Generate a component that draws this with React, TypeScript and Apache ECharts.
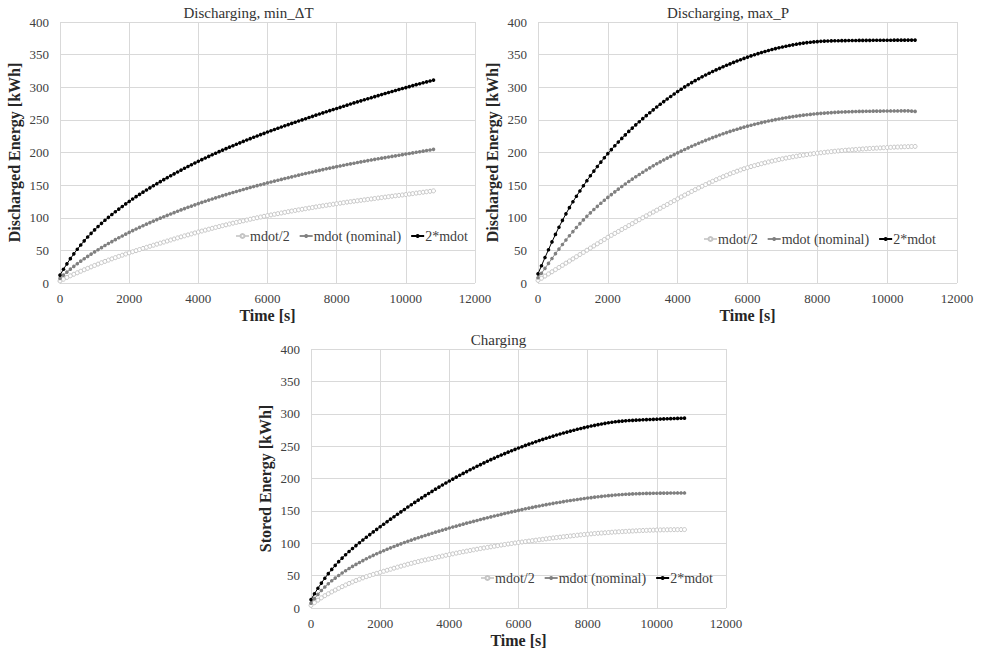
import React, { useEffect, useRef } from "react";
import * as echarts from "echarts";

// Time [s]
const time = [
  0, 100, 200, 300, 400, 500, 600, 700, 800, 900,
  1000, 1100, 1200, 1300, 1400, 1500, 1600, 1700, 1800, 1900,
  2000, 2100, 2200, 2300, 2400, 2500, 2600, 2700, 2800, 2900,
  3000, 3100, 3200, 3300, 3400, 3500, 3600, 3700, 3800, 3900,
  4000, 4100, 4200, 4300, 4400, 4500, 4600, 4700, 4800, 4900,
  5000, 5100, 5200, 5300, 5400, 5500, 5600, 5700, 5800, 5900,
  6000, 6100, 6200, 6300, 6400, 6500, 6600, 6700, 6800, 6900,
  7000, 7100, 7200, 7300, 7400, 7500, 7600, 7700, 7800, 7900,
  8000, 8100, 8200, 8300, 8400, 8500, 8600, 8700, 8800, 8900,
  9000, 9100, 9200, 9300, 9400, 9500, 9600, 9700, 9800, 9900,
  10000, 10100, 10200, 10300, 10400, 10500, 10600, 10700, 10800,
];

const seriesNames = ["mdot/2", "mdot (nominal)", "2*mdot"];

// Discharging, min_ΔT
const minDT_half = [
  3, 5.8, 8.5, 11, 13.4, 15.7, 18, 20.3, 22.5, 24.7,
  26.9, 29, 31.1, 33.1, 35.1, 37, 38.9, 40.8, 42.6, 44.4,
  46.2, 47.9, 49.6, 51.3, 53, 54.7, 56.3, 57.9, 59.5, 61.1,
  62.7, 64.3, 65.9, 67.5, 69.1, 70.7, 72.2, 73.7, 75.2, 76.7,
  78.2, 79.6, 81, 82.4, 83.8, 85.2, 86.5, 87.8, 89.1, 90.4,
  91.7, 92.9, 94.1, 95.3, 96.5, 97.7, 98.9, 100, 101.1, 102.2,
  103.3, 104.3, 105.3, 106.3, 107.3, 108.3, 109.3, 110.3, 111.2, 112.1,
  113, 113.9, 114.8, 115.7, 116.6, 117.5, 118.3, 119.1, 119.9, 120.7,
  121.5, 122.3, 123.1, 123.9, 124.6, 125.3, 126, 126.7, 127.4, 128.1,
  128.8, 129.5, 130.2, 130.9, 131.6, 132.3, 133, 133.7, 134.3, 134.9,
  135.6, 136.3, 137, 137.7, 138.4, 139.1, 139.8, 140.5, 141.2,
];
const minDT_nom = [
  7, 12, 16.7, 21.2, 25.5, 29.6, 33.5, 37.2, 40.8, 44.3,
  47.7, 51, 54.2, 57.4, 60.5, 63.5, 66.4, 69.3, 72.1, 74.9,
  77.6, 80.2, 82.8, 85.3, 87.8, 90.2, 92.6, 94.9, 97.2, 99.4,
  101.6, 103.7, 105.8, 107.9, 110, 112, 114, 116, 117.9, 119.8,
  121.7, 123.5, 125.3, 127.1, 128.8, 130.5, 132.2, 133.9, 135.5, 137.1,
  138.7, 140.3, 141.8, 143.3, 144.8, 146.3, 147.8, 149.2, 150.6, 152,
  153.4, 154.8, 156.2, 157.5, 158.8, 160.1, 161.4, 162.7, 164, 165.3,
  166.6, 167.8, 169, 170.2, 171.4, 172.6, 173.8, 175, 176.1, 177.2,
  178.3, 179.4, 180.5, 181.6, 182.6, 183.6, 184.6, 185.6, 186.6, 187.6,
  188.6, 189.5, 190.4, 191.3, 192.2, 193.1, 194, 194.9, 195.8, 196.7,
  197.6, 198.5, 199.4, 200.3, 201.2, 202.1, 203, 203.9, 204.8,
];
const minDT_double = [
  12, 21, 29.4, 37.3, 44.7, 51.7, 58.3, 64.6, 70.5, 76.1,
  81.4, 86.5, 91.4, 96.1, 100.6, 105, 109.2, 113.3, 117.3, 121.2,
  125, 128.7, 132.3, 135.8, 139.2, 142.5, 145.8, 149, 152.2, 155.3,
  158.4, 161.4, 164.4, 167.3, 170.2, 173, 175.8, 178.6, 181.3, 183.9,
  186.5, 189, 191.5, 194, 196.5, 198.9, 201.3, 203.6, 205.9, 208.2,
  210.4, 212.6, 214.8, 217, 219.1, 221.2, 223.3, 225.3, 227.4, 229.4,
  231.4, 233.3, 235.2, 237.1, 239, 240.9, 242.8, 244.6, 246.4, 248.2,
  250, 251.8, 253.6, 255.4, 257.2, 259, 260.7, 262.4, 264.1, 265.8,
  267.5, 269.2, 270.9, 272.6, 274.3, 276, 277.6, 279.2, 280.8, 282.4,
  284, 285.6, 287.2, 288.8, 290.4, 292, 293.5, 295, 296.5, 298,
  299.5, 301, 302.5, 304, 305.4, 306.8, 308.2, 309.6, 311,
];

// Discharging, max_P
const maxP_half = [
  4, 7.3, 10.6, 13.9, 17.2, 20.5, 23.8, 27.1, 30.4, 33.7,
  37, 40.3, 43.6, 46.9, 50.2, 53.5, 56.8, 60.1, 63.4, 66.7,
  70, 73, 76, 79, 82, 85, 88, 91, 94, 97,
  100, 102.9, 105.8, 108.7, 111.6, 114.5, 117.4, 120.3, 123.2, 126.1,
  129, 131.9, 134.7, 137.5, 140.3, 143, 145.7, 148.3, 150.9, 153.4,
  155.9, 158.3, 160.6, 162.9, 165.1, 167.3, 169.4, 171.4, 173.3, 175.1,
  176.8, 178.4, 179.9, 181.4, 182.8, 184.2, 185.5, 186.8, 188, 189.2,
  190.3, 191.4, 192.4, 193.4, 194.3, 195.2, 196, 196.8, 197.6, 198.3,
  199, 199.6, 200.2, 200.8, 201.4, 201.9, 202.4, 202.9, 203.4, 203.8,
  204.2, 204.6, 205, 205.4, 205.8, 206.1, 206.4, 206.7, 207, 207.3,
  207.6, 207.9, 208.2, 208.4, 208.6, 208.8, 209, 209.2, 209.3,
];
const maxP_nom = [
  8, 15, 22.5, 30, 37.5, 45, 52, 59, 65.8, 72.4,
  78.8, 85, 91, 96.7, 102.2, 107.5, 112.6, 117.5, 122.2, 126.8,
  131.2, 135.5, 139.7, 143.8, 147.8, 151.7, 155.5, 159.2, 162.8, 166.3,
  169.7, 173.1, 176.4, 179.6, 182.7, 185.7, 188.6, 191.4, 194.1, 196.8,
  199.5, 202.1, 204.6, 207.1, 209.5, 211.9, 214.2, 216.4, 218.6, 220.7,
  222.8, 224.8, 226.8, 228.7, 230.5, 232.3, 234, 235.7, 237.3, 238.9,
  240.4, 241.8, 243.2, 244.5, 245.8, 247, 248.2, 249.3, 250.4, 251.4,
  252.4, 253.3, 254.2, 255, 255.8, 256.5, 257.2, 257.8, 258.4, 259,
  259.5, 260, 260.4, 260.8, 261.2, 261.5, 261.8, 262.1, 262.3, 262.5,
  262.7, 262.9, 263, 263.1, 263.2, 263.3, 263.4, 263.5, 263.5, 263.6,
  263.6, 263.7, 263.7, 263.7, 263.8, 263.8, 263.8, 263.5, 263,
];
const maxP_double = [
  14, 26.5, 39, 51, 63, 74.5, 85.5, 96, 106, 115.5,
  124.5, 133, 141, 149, 156.8, 164.3, 171.5, 178.5, 185.3, 191.9,
  198.3, 204.4, 210.3, 216, 221.6, 227, 232.3, 237.4, 242.4, 247.2,
  251.9, 256.5, 261, 265.4, 269.7, 273.9, 278, 282, 285.9, 289.7,
  293.4, 297, 300.5, 303.8, 307, 310.1, 313.1, 316, 318.8, 321.5,
  324.1, 326.6, 329, 331.4, 333.7, 335.9, 338.1, 340.2, 342.2, 344.2,
  346.1, 348, 349.8, 351.5, 353.2, 354.8, 356.3, 357.8, 359.2, 360.5,
  361.7, 362.9, 364, 365, 366, 366.9, 367.7, 368.4, 369, 369.5,
  370, 370.4, 370.7, 370.9, 371.1, 371.2, 371.3, 371.4, 371.5, 371.6,
  371.7, 371.7, 371.8, 371.8, 371.9, 371.9, 372, 372, 372, 372.1,
  372.1, 372.1, 372.2, 372.2, 372.2, 372.2, 372.3, 372.3, 372.3,
];

// Charging
const charge_half = [
  4, 8.2, 12.1, 15.7, 19, 22, 24.9, 27.7, 30.4, 33,
  35.5, 37.9, 40.2, 42.4, 44.5, 46.5, 48.4, 50.2, 51.9, 53.5,
  55.1, 56.7, 58.3, 59.9, 61.5, 63.1, 64.6, 66.1, 67.6, 69,
  70.4, 71.7, 73, 74.2, 75.4, 76.6, 77.8, 79, 80.2, 81.4,
  82.5, 83.6, 84.7, 85.8, 86.8, 87.8, 88.8, 89.8, 90.8, 91.8,
  92.7, 93.6, 94.5, 95.4, 96.3, 97.2, 98, 98.8, 99.6, 100.4,
  101.2, 101.9, 102.6, 103.3, 104, 104.7, 105.4, 106.1, 106.8, 107.5,
  108.2, 108.8, 109.4, 110, 110.6, 111.2, 111.8, 112.4, 113, 113.5,
  114, 114.5, 115, 115.4, 115.8, 116.2, 116.6, 117, 117.4, 117.7,
  118, 118.3, 118.6, 118.9, 119.2, 119.5, 119.7, 119.9, 120.1, 120.3,
  120.5, 120.6, 120.7, 120.8, 120.9, 121, 121, 121.1, 121.1,
];
const charge_nom = [
  7.5, 14.5, 21, 27, 32.5, 37.5, 42, 46.2, 50.2, 54,
  57.6, 61, 64.2, 67.3, 70.3, 73.2, 76, 78.7, 81.3, 83.8,
  86.2, 88.5, 90.7, 92.9, 95, 97.1, 99.1, 101.1, 103, 104.9,
  106.7, 108.5, 110.3, 112, 113.7, 115.4, 117.1, 118.7, 120.3, 121.9,
  123.5, 125, 126.5, 128, 129.5, 131, 132.4, 133.8, 135.2, 136.6,
  138, 139.4, 140.7, 142, 143.3, 144.6, 145.9, 147.2, 148.4, 149.6,
  150.8, 152, 153.2, 154.3, 155.4, 156.5, 157.6, 158.6, 159.6, 160.6,
  161.6, 162.5, 163.4, 164.3, 165.2, 166, 166.8, 167.6, 168.4, 169.1,
  169.8, 170.5, 171.2, 171.8, 172.4, 173, 173.5, 174, 174.5, 174.9,
  175.3, 175.6, 175.9, 176.2, 176.4, 176.6, 176.8, 177, 177.1, 177.2,
  177.3, 177.4, 177.5, 177.5, 177.6, 177.6, 177.7, 177.7, 177.7,
];
const charge_double = [
  13, 22, 30.5, 38.5, 46, 53, 59.6, 65.8, 71.6, 77.1,
  82.3, 87.2, 91.9, 96.4, 100.8, 105.1, 109.3, 113.4, 117.5, 121.5,
  125.5, 129.4, 133.3, 137.2, 141, 144.8, 148.5, 152.2, 155.9, 159.5,
  163.1, 166.6, 170.1, 173.5, 176.9, 180.2, 183.5, 186.7, 189.9, 193,
  196.1, 199.1, 202.1, 205, 207.9, 210.7, 213.5, 216.2, 218.9, 221.5,
  224.1, 226.6, 229.1, 231.5, 233.9, 236.2, 238.5, 240.7, 242.9, 245,
  247.1, 249.1, 251.1, 253, 254.9, 256.8, 258.6, 260.4, 262.1, 263.8,
  265.5, 267.1, 268.7, 270.2, 271.7, 273.2, 274.6, 276, 277.3, 278.6,
  279.8, 281, 282.1, 283.2, 284.2, 285.2, 286.1, 286.9, 287.6, 288.2,
  288.7, 289.1, 289.5, 289.8, 290.1, 290.4, 290.7, 291, 291.2, 291.4,
  291.6, 291.8, 292, 292.2, 292.4, 292.6, 292.8, 293, 293.2,
];

const panelTitles = ["Discharging, min_\u0394T", "Discharging, max_P", "Charging"];
const yNames = ["Discharged Energy [kWh]", "Discharged Energy [kWh]", "Stored Energy [kWh]"];
const xName = "Time [s]";

const panels = [
  [minDT_half, minDT_nom, minDT_double],
  [maxP_half, maxP_nom, maxP_double],
  [charge_half, charge_nom, charge_double],
];

const FONT = "Liberation Serif";

export default function App() {
  const ref = useRef<HTMLDivElement>(null);

  useEffect(() => {
    if (!ref.current) return;
    const chart = echarts.init(ref.current, undefined, { renderer: "svg" });

    const grids = [
      { left: 60, top: 22, width: 415, height: 261 },
      { left: 538, top: 22, width: 419, height: 261 },
      { left: 311, top: 349, width: 415, height: 259 },
    ];
    const titlePos = [
      [248.5, 13],
      [728, 13],
      [498.5, 340],
    ];
    const legendPos = [
      { left: 235, top: 229 },
      { left: 703, top: 232 },
      { left: 480, top: 571 },
    ];

    const styles = [
      {
        lineStyle: { color: "#d0d0d0", width: 1 },
        itemStyle: { color: "#ffffff", borderColor: "#c4c4c4", borderWidth: 1 },
        symbolSize: 4,
      },
      {
        lineStyle: { color: "#8c8c8c", width: 1 },
        itemStyle: { color: "#808080", borderWidth: 0 },
        symbolSize: 3.6,
      },
      {
        lineStyle: { color: "#000000", width: 1 },
        itemStyle: { color: "#000000", borderWidth: 0 },
        symbolSize: 3.6,
      },
    ];

    const xAxes = grids.map((_, i) => ({
      type: "value",
      gridIndex: i,
      min: 0,
      max: 12000,
      interval: 2000,
      name: xName,
      nameLocation: "middle",
      nameGap: 24,
      nameTextStyle: { fontFamily: FONT, fontSize: 16, fontWeight: "bold", color: "#262626" },
      axisLine: { show: false },
      axisTick: { show: false },
      axisLabel: {
        fontFamily: FONT,
        fontSize: 13,
        color: "#404040",
        margin: 9,
        formatter: (v: number) => String(v),
      },
      splitLine: { show: true, lineStyle: { color: "#d9d9d9", width: 1 } },
    }));

    const yAxes = grids.map((_, i) => ({
      type: "value",
      gridIndex: i,
      min: 0,
      max: 400,
      interval: 50,
      name: yNames[i],
      nameLocation: "middle",
      nameGap: 38,
      nameTextStyle: { fontFamily: FONT, fontSize: 16, fontWeight: "bold", color: "#262626" },
      axisLine: { show: false },
      axisTick: { show: false },
      axisLabel: {
        fontFamily: FONT,
        fontSize: 13,
        color: "#404040",
        margin: 11,
        formatter: (v: number) => String(v),
      },
      splitLine: { show: true, lineStyle: { color: "#d9d9d9", width: 1 } },
    }));

    const series: any[] = [];
    panels.forEach((vals, p) => {
      vals.forEach((arr, s) => {
        series.push({
          type: "line",
          name: seriesNames[s],
          xAxisIndex: p,
          yAxisIndex: p,
          data: time.map((t, k) => [t, arr[k]]),
          symbol: "circle",
          symbolSize: styles[s].symbolSize,
          lineStyle: styles[s].lineStyle,
          itemStyle: styles[s].itemStyle,
          z: 2 + s,
          emphasis: { disabled: true },
        });
      });
    });

    const legends = legendPos.map((pos) => ({
      ...pos,
      orient: "horizontal",
      data: seriesNames,
      itemWidth: 13,
      itemHeight: 5,
      itemGap: 9,
      padding: 0,
      selectedMode: false,
      textStyle: { fontFamily: FONT, fontSize: 14, color: "#404040", padding: [0, 0, 0, -4] },
    }));

    const graphic = panelTitles.map((t, i) => ({
      type: "text",
      x: titlePos[i][0],
      y: titlePos[i][1],
      style: {
        text: t,
        fontFamily: FONT,
        fontSize: 15,
        fill: "#333333",
        textAlign: "center",
        textVerticalAlign: "middle",
      },
    }));

    chart.setOption({
      animation: false,
      backgroundColor: "#ffffff",
      textStyle: { fontFamily: FONT },
      grid: grids,
      xAxis: xAxes,
      yAxis: yAxes,
      legend: legends,
      series,
      graphic,
    });

    return () => chart.dispose();
  }, []);

  return (
    <div
      ref={ref}
      style={{ position: "absolute", left: 0, top: 0, width: 983, height: 653 }}
    />
  );
}
